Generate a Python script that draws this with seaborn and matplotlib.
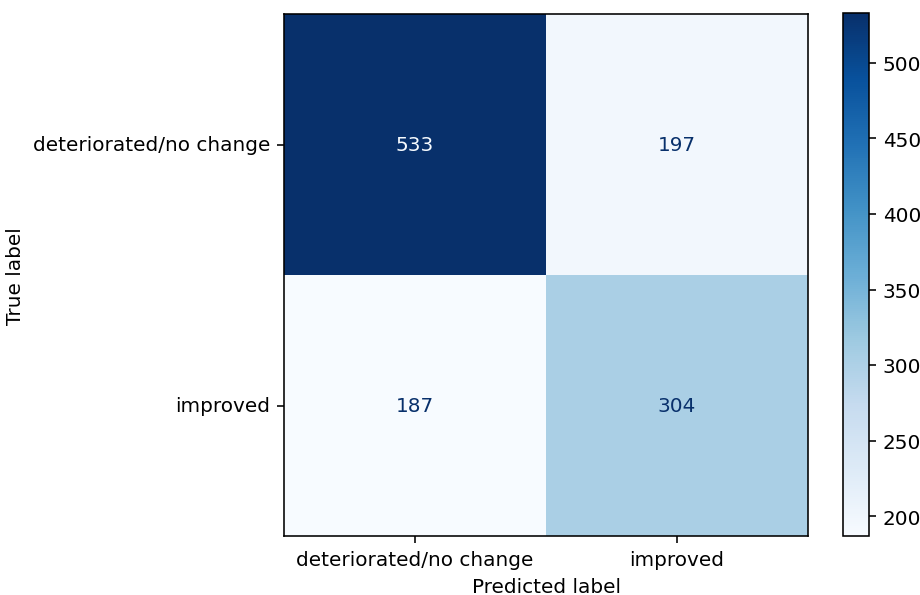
import matplotlib
matplotlib.use("Agg")
import matplotlib.pyplot as plt
import seaborn as sns
import numpy as np
import pandas as pd

classes = ["deteriorated/no change", "improved"]
row_true = [533, 197]
row_improved = [187, 304]
cbar_ticks = [200, 250, 300, 350, 400, 450, 500]

cm = pd.DataFrame([row_true, row_improved], index=classes, columns=classes)

plt.rcParams["font.family"] = ["DejaVu Sans"]
fig = plt.figure(figsize=(6.4, 4.14), dpi=143.9)
ax = fig.add_axes([0.3084, 0.099, 0.569, 0.876])
cax = fig.add_axes([0.9153, 0.099, 0.0282, 0.878])

cmap = plt.get_cmap("Blues")
vmin, vmax = cm.values.min(), cm.values.max()
sns.heatmap(cm, ax=ax, cbar_ax=cax, cmap=cmap, vmin=vmin, vmax=vmax,
            annot=True, fmt="d", annot_kws={"fontsize": 10}, square=False)

thresh = (vmin + vmax) / 2.0
vals = cm.values.flatten()
for t, v in zip(ax.texts, vals):
    t.set_color(cmap(0.0) if v > thresh else cmap(1.0))

for s in ax.spines.values():
    s.set_visible(True)
    s.set_linewidth(0.8)
    s.set_color("black")
ax.tick_params(axis="both", length=3.5, width=0.8, labelsize=10)
ax.set_yticklabels(classes, rotation=0)
ax.set_xticklabels(classes, rotation=0)
ax.set_xlabel("Predicted label", fontsize=10)
ax.set_ylabel("True label", fontsize=10)

cbar = ax.collections[0].colorbar
cbar.set_ticks(cbar_ticks)
cbar.outline.set_visible(True)
cbar.outline.set_linewidth(0.8)
cax.tick_params(length=3.5, width=0.8, labelsize=10)

fig.savefig("out.png", dpi=143.9)
